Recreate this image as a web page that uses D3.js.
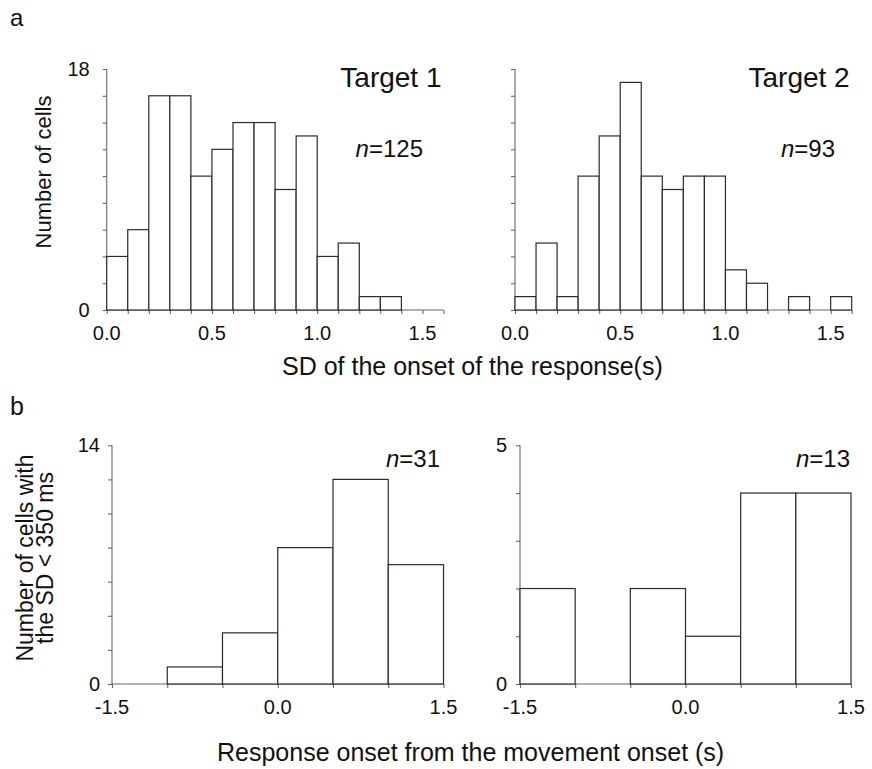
<!DOCTYPE html>
<html>
<head>
<meta charset="utf-8">
<script src="https://cdn.jsdelivr.net/npm/d3@7"></script>
<style>
  html, body { margin: 0; padding: 0; background: #fff; }
  svg { display: block; font-family: "Liberation Sans", Arial, sans-serif; }
</style>
</head>
<body>
<svg id="chart" width="872" height="769"></svg>
<script>
// ---- data ----
// Panel a: SD of response onset (s), bins of 0.1 s
const sdBinEdgesT1 = [0.0,0.1,0.2,0.3,0.4,0.5,0.6,0.7,0.8,0.9,1.0,1.1,1.2,1.3,1.4,1.5];
const target1Counts = [4,6,16,16,10,12,14,14,9,13,4,5,1,1,0];
const sdBinEdgesT2 = [0.0,0.1,0.2,0.3,0.4,0.5,0.6,0.7,0.8,0.9,1.0,1.1,1.2,1.3,1.4,1.5,1.6];
const target2Counts = [1,5,1,10,13,17,10,9,10,10,3,2,0,1,0,1];
// Panel b: response onset from movement onset (s), bins of 0.5 s
const onsetBinEdges = [-1.5,-1.0,-0.5,0.0,0.5,1.0,1.5];
const b1Counts = [0,1,3,8,12,7];
const b2Counts = [2,0,2,1,4,4];
// tick labels
const sdTickLabels = [0.0, 0.5, 1.0, 1.5];
const onsetTickLabels = [-1.5, 0.0, 1.5];
const panelTitles = ["Target 1", "Target 2"];
const nLabels = ["125", "93", "31", "13"];

const svg = d3.select("#chart");
const BAR = "#2e2a2a", AX = "#6b6464";

function panel(cfg) {
  const g = svg.append("g");
  const x = d3.scaleLinear().domain(cfg.xDomain).range(cfg.xRange);
  const y = d3.scaleLinear().domain(cfg.yDomain).range(cfg.yRange);

  // x axis line + ticks
  const xa = d3.axisBottom(x).tickValues(cfg.xTicks).tickSize(4).tickFormat("");
  const gx = g.append("g").attr("transform", `translate(0,${cfg.yRange[0]})`).call(xa);
  gx.selectAll("path, line").attr("stroke", AX).attr("stroke-width", 1.1);
  gx.select(".domain").attr("d", `M${cfg.xRange[0]},0H${cfg.xRange[1]}`);

  // x tick labels
  g.selectAll(null).data(cfg.xLabels).enter().append("text")
    .attr("x", d => x(d)).attr("y", cfg.yRange[0] + 30)
    .attr("text-anchor", "middle").attr("font-size", 20).attr("fill", "#111")
    .text(d => d3.format(".1f")(d).replace("−", "-"));

  // y axis
  const ya = d3.axisLeft(y).tickValues(d3.range(cfg.yDomain[0], cfg.yDomain[1] + 0.001, cfg.yStep))
    .tickSize(4).tickFormat("");
  const gy = g.append("g").attr("transform", `translate(${cfg.xRange[0]},0)`).call(ya);
  gy.selectAll("path, line").attr("stroke", AX).attr("stroke-width", 1.1);
  gy.select(".domain").attr("d", `M0,${cfg.yRange[0]}V${cfg.yRange[1]}`);

  if (cfg.yLabels) {
    g.selectAll(null).data(cfg.yLabels).enter().append("text")
      .attr("x", cfg.xRange[0] - cfg.yLabelGap).attr("y", d => y(d) + 7)
      .attr("text-anchor", "end").attr("font-size", 20).attr("fill", "#111")
      .text(d => d);
  }

  // bars
  const bins = cfg.counts.map((c, i) => ({x0: cfg.edges[i], x1: cfg.edges[i + 1], c}))
    .filter(b => b.c > 0);
  g.selectAll(null).data(bins).enter().append("rect")
    .attr("x", d => x(d.x0)).attr("width", d => x(d.x1) - x(d.x0))
    .attr("y", d => y(d.c)).attr("height", d => y(0) - y(d.c))
    .attr("fill", "#fff").attr("stroke", BAR).attr("stroke-width", 1.2);

  // title / n label
  if (cfg.title) {
    g.append("text").attr("x", cfg.xRange[1] - 2).attr("y", cfg.yRange[1] + 18)
      .attr("text-anchor", "end").attr("font-size", 28).attr("fill", "#111").text(cfg.title);
  }
  const nt = g.append("text").attr("x", cfg.nX).attr("y", cfg.nY)
    .attr("text-anchor", "end").attr("font-size", 24).attr("fill", "#111");
  nt.append("tspan").attr("font-style", "italic").text("n");
  nt.append("tspan").text("=" + cfg.n);
}

panel({xDomain:[0,1.6], xRange:[106.7,443.5], yDomain:[0,18], yRange:[310,69], yStep:2,
  xTicks: d3.range(0, 1.61, 0.1), xLabels: sdTickLabels, yLabels:[0,18], yLabelGap:17,
  edges: sdBinEdgesT1, counts: target1Counts, title: panelTitles[0], n: nLabels[0], nX: 423, nY: 157});
panel({xDomain:[0,1.6], xRange:[515,851.7], yDomain:[0,18], yRange:[310,69], yStep:2,
  xTicks: d3.range(0, 1.61, 0.1), xLabels: sdTickLabels, yLabels:null,
  edges: sdBinEdgesT2, counts: target2Counts, title: panelTitles[1], n: nLabels[1], nX: 835, nY: 157});
panel({xDomain:[-1.5,1.5], xRange:[112,443.5], yDomain:[0,14], yRange:[684,445.3], yStep:2,
  xTicks: onsetBinEdges, xLabels: onsetTickLabels, yLabels:[0,14], yLabelGap:12,
  edges: onsetBinEdges, counts: b1Counts, title: null, n: nLabels[2], nX: 440, nY: 467});
panel({xDomain:[-1.5,1.5], xRange:[520,851], yDomain:[0,5], yRange:[684,445.3], yStep:1,
  xTicks: onsetBinEdges, xLabels: onsetTickLabels, yLabels:[0,5], yLabelGap:13,
  edges: onsetBinEdges, counts: b2Counts, title: null, n: nLabels[3], nX: 850, nY: 467});

// panel letters
svg.append("text").attr("x", 10).attr("y", 26).attr("font-size", 24).attr("fill", "#111").text("a");
svg.append("text").attr("x", 10).attr("y", 415).attr("font-size", 25).attr("fill", "#111").text("b");

// axis titles
svg.append("text").attr("x", 282).attr("y", 375).attr("text-anchor", "start")
  .attr("font-size", 25).attr("fill", "#111").text("SD of the onset of the response(s)");
svg.append("text").attr("x", 217).attr("y", 761).attr("text-anchor", "start")
  .attr("font-size", 25).attr("fill", "#111").text("Response onset from the movement onset (s)");

svg.append("text").attr("transform", "translate(51,172) rotate(-90)").attr("text-anchor", "middle")
  .attr("font-size", 22).attr("fill", "#111").text("Number of cells");
const yl2 = svg.append("text").attr("transform", "translate(33,558) rotate(-90)").attr("text-anchor", "middle")
  .attr("font-size", 23).attr("fill", "#111");
yl2.append("tspan").attr("x", 0).attr("y", 0).text("Number of cells with");
yl2.append("tspan").attr("x", 0).attr("y", 20).text("the SD < 350 ms");
</script>
</body>
</html>
